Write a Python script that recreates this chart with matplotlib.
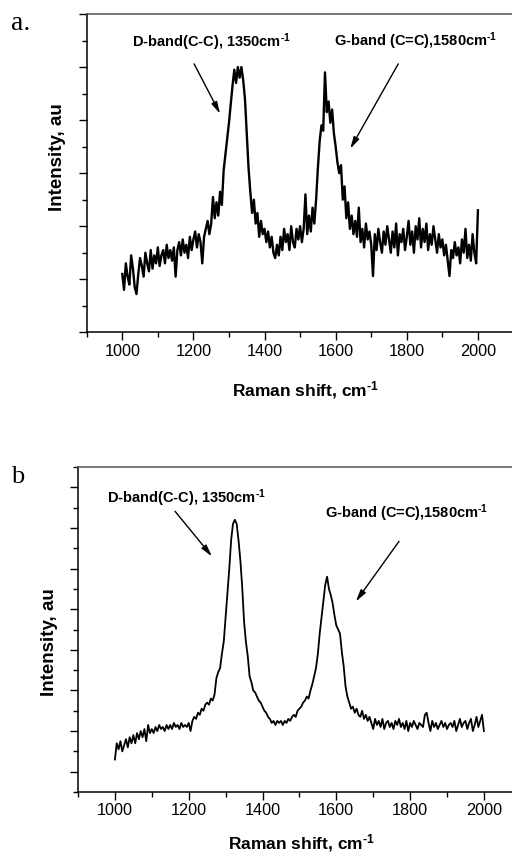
import numpy as np
import matplotlib.pyplot as plt
from matplotlib.ticker import MultipleLocator, NullFormatter

plt.rcParams["font.family"] = ["Liberation Sans", "DejaVu Sans"]
plt.rcParams["mathtext.fontset"] = "custom"
plt.rcParams["mathtext.rm"] = "Liberation Sans:bold"
plt.rcParams["mathtext.bf"] = "Liberation Sans:bold"
plt.rcParams["mathtext.default"] = "bf"

# Raman shift grid (cm-1), 5 cm-1 step
shift = np.arange(1000, 2001, 5)

# panel a: raw spectrum (arbitrary units)
intensity_a = [
    1.10, 0.80, 1.30, 1.05, 0.90, 1.45, 1.20, 0.85, 0.72, 1.10,
    1.40, 1.25, 1.05, 1.50, 1.30, 1.15, 1.55, 1.20, 1.45, 1.30,
    1.60, 1.25, 1.45, 1.55, 1.30, 1.65, 1.40, 1.55, 1.35, 1.60,
    1.05, 1.55, 1.70, 1.45, 1.75, 1.50, 1.65, 1.40, 1.80, 1.55,
    1.75, 1.90, 1.60, 1.85, 1.70, 1.30, 1.80, 1.95, 2.10, 1.85,
    2.05, 2.55, 2.15, 2.45, 2.20, 2.65, 2.40, 3.05, 3.35, 3.65,
    3.95, 4.30, 4.65, 4.95, 4.70, 5.00, 4.80, 5.00, 4.75, 4.40,
    3.75, 3.10, 2.65, 2.25, 2.50, 2.05, 2.25, 1.80, 2.10, 1.85,
    1.95, 1.70, 1.90, 1.60, 1.80, 1.50, 1.40, 1.65, 1.45, 1.80,
    1.55, 1.95, 1.70, 1.85, 1.55, 2.00, 1.70, 1.60, 1.95, 1.75,
    2.00, 1.70, 1.95, 2.60, 1.85, 2.20, 1.90, 2.35, 2.05, 2.50,
    3.10, 3.60, 3.90, 3.80, 4.90, 4.15, 4.35, 3.95, 4.20, 3.75,
    3.50, 3.20, 3.00, 3.15, 2.50, 2.75, 2.15, 2.45, 1.95, 2.20,
    1.85, 2.10, 1.80, 2.35, 1.70, 1.95, 1.60, 2.05, 1.75, 1.90,
    1.65, 1.06, 1.85, 1.55, 1.95, 1.70, 1.50, 1.90, 1.65, 2.00,
    1.75, 1.50, 1.90, 1.60, 2.05, 1.45, 1.85, 1.70, 1.95, 1.55,
    1.80, 2.10, 1.65, 1.90, 1.50, 2.00, 1.75, 2.15, 1.60, 1.95,
    1.70, 2.05, 1.55, 1.85, 1.65, 2.00, 1.75, 1.50, 1.85, 1.60,
    1.75, 1.45, 1.65, 1.35, 1.06, 1.55, 1.40, 1.70, 1.45, 1.60,
    1.30, 1.75, 1.50, 1.95, 1.40, 1.65, 1.35, 1.85, 1.50, 1.30,
    2.30,
]

# panel b: spectrum (arbitrary units)
intensity_b = [
    0.30, 0.70, 0.55, 0.75, 0.50, 0.65, 0.80, 0.60, 0.85, 0.70,
    0.90, 0.70, 0.95, 0.80, 1.00, 0.85, 1.05, 0.75, 1.15, 0.95,
    1.05, 0.95, 1.10, 1.00, 1.15, 1.05, 1.10, 1.00, 1.15, 1.05,
    1.15, 1.05, 1.20, 1.10, 1.15, 1.05, 1.20, 1.10, 1.15, 1.10,
    1.20, 1.00, 1.25, 1.35, 1.30, 1.45, 1.40, 1.55, 1.50, 1.65,
    1.70, 1.65, 1.80, 1.75, 1.90, 2.30, 2.45, 2.55, 2.90, 3.20,
    3.80, 4.40, 5.00, 5.70, 6.10, 6.20, 6.10, 5.70, 5.20, 4.55,
    3.70, 3.20, 2.85, 2.35, 2.20, 2.00, 1.95, 1.85, 1.75, 1.70,
    1.60, 1.50, 1.45, 1.35, 1.30, 1.20, 1.25, 1.15, 1.25, 1.20,
    1.25, 1.15, 1.25, 1.20, 1.30, 1.25, 1.35, 1.40, 1.35, 1.50,
    1.55, 1.60, 1.70, 1.75, 1.85, 1.80, 2.00, 2.15, 2.35, 2.55,
    2.90, 3.40, 3.80, 4.20, 4.60, 4.80, 4.50, 4.35, 4.15, 3.85,
    3.60, 3.50, 3.40, 2.95, 2.60, 2.10, 1.85, 1.70, 1.55, 1.60,
    1.45, 1.55, 1.40, 1.35, 1.50, 1.30, 1.40, 1.25, 1.35, 1.20,
    1.05, 1.30, 1.15, 1.25, 1.10, 1.30, 1.05, 1.20, 1.25, 1.10,
    1.20, 1.05, 1.25, 1.15, 1.30, 1.10, 1.20, 1.05, 1.25, 1.00,
    1.20, 1.10, 1.25, 1.15, 1.05, 1.20, 1.15, 1.10, 1.40, 1.45,
    1.20, 1.00, 1.25, 1.10, 1.20, 1.05, 1.15, 1.25, 1.10, 1.20,
    1.05, 1.15, 1.20, 1.10, 1.25, 1.00, 1.15, 1.30, 1.10, 1.20,
    1.25, 1.05, 1.20, 1.30, 1.00, 1.15, 1.35, 1.10, 1.25, 1.40,
    1.00,
]

d_label = r"D-band(C-C), 1350cm$^{\text{-1}}$"
g_label = r"G-band (C=C),1580cm$^{\text{-1}}$"
x_label = r"Raman shift, cm$^{\text{-1}}$"

W, H = 512, 853


def fx(x):
    return x / W


def fy(y):
    return 1 - y / H


def style(ax, ylim, ymajor):
    ax.set_xlim(900, 2100)
    ax.set_ylim(*ylim)
    ax.xaxis.set_major_locator(MultipleLocator(200))
    ax.xaxis.set_minor_locator(MultipleLocator(100))
    ax.yaxis.set_major_locator(MultipleLocator(ymajor))
    ax.yaxis.set_minor_locator(MultipleLocator(ymajor / 2))
    ax.yaxis.set_major_formatter(NullFormatter())
    ax.tick_params(which="both", direction="out", width=1.0, top=False, right=False)
    ax.tick_params(which="major", length=6, labelsize=11.7, pad=1.5)
    ax.tick_params(which="minor", length=3.5)
    ax.spines["right"].set_visible(False)
    ax.spines["top"].set_color("#555555")
    for s in ("left", "bottom", "top"):
        ax.spines[s].set_linewidth(1.1)


def arrow(ax, start, end):
    ax.annotate("", xy=end, xytext=start,
                arrowprops=dict(arrowstyle="-|>,head_length=0.7,head_width=0.18",
                                color="black", lw=1.0, shrinkA=0, shrinkB=0))


fig = plt.figure(figsize=(W / 100, H / 100), dpi=100)

# panel a
ax_a = fig.add_axes([fx(86.7), fy(333.3), 426.8 / W, 318.3 / H])
ax_a.plot(shift, intensity_a, color="black", lw=1.7)
style(ax_a, (0, 6), 1)
ax_a.text(1252, 5.48, d_label, ha="center", va="center", fontsize=10.5, fontweight="bold")
ax_a.text(1826, 5.50, g_label, ha="center", va="center", fontsize=10.5, fontweight="bold")
arrow(ax_a, (1202, 5.06), (1275, 4.12))
arrow(ax_a, (1776, 5.06), (1641, 3.46))

fig.text(fx(21), fy(23), "a.", family="Liberation Serif", fontsize=20, ha="center", va="center")
fig.text(fx(58), fy(157), "Intensity, au", rotation=90, fontsize=13.5, fontweight="bold",
         ha="center", va="center")
fig.text(fx(305), fy(390), x_label, fontsize=12.5, fontweight="bold",
         ha="center", va="center")

# panel b
ax_b = fig.add_axes([fx(78), fy(793), 442.8 / W, 325 / H])
ax_b.plot(shift, intensity_b, color="black", lw=1.3)
style(ax_b, (-0.5, 7.5), 1)
ax_b.text(1194, 6.75, d_label, ha="center", va="center", fontsize=10.5, fontweight="bold")
ax_b.text(1791, 6.38, g_label, ha="center", va="center", fontsize=10.5, fontweight="bold")
arrow(ax_b, (1163, 6.41), (1263, 5.30))
arrow(ax_b, (1770, 5.67), (1653, 4.19))

fig.text(fx(18), fy(477), "b", family="Liberation Serif", fontsize=19, ha="center", va="center")
fig.text(fx(50), fy(642), "Intensity, au", rotation=90, fontsize=13.5, fontweight="bold",
         ha="center", va="center")
fig.text(fx(301), fy(843), x_label, fontsize=12.5, fontweight="bold",
         ha="center", va="center")

fig.savefig("out.png", dpi=100)
